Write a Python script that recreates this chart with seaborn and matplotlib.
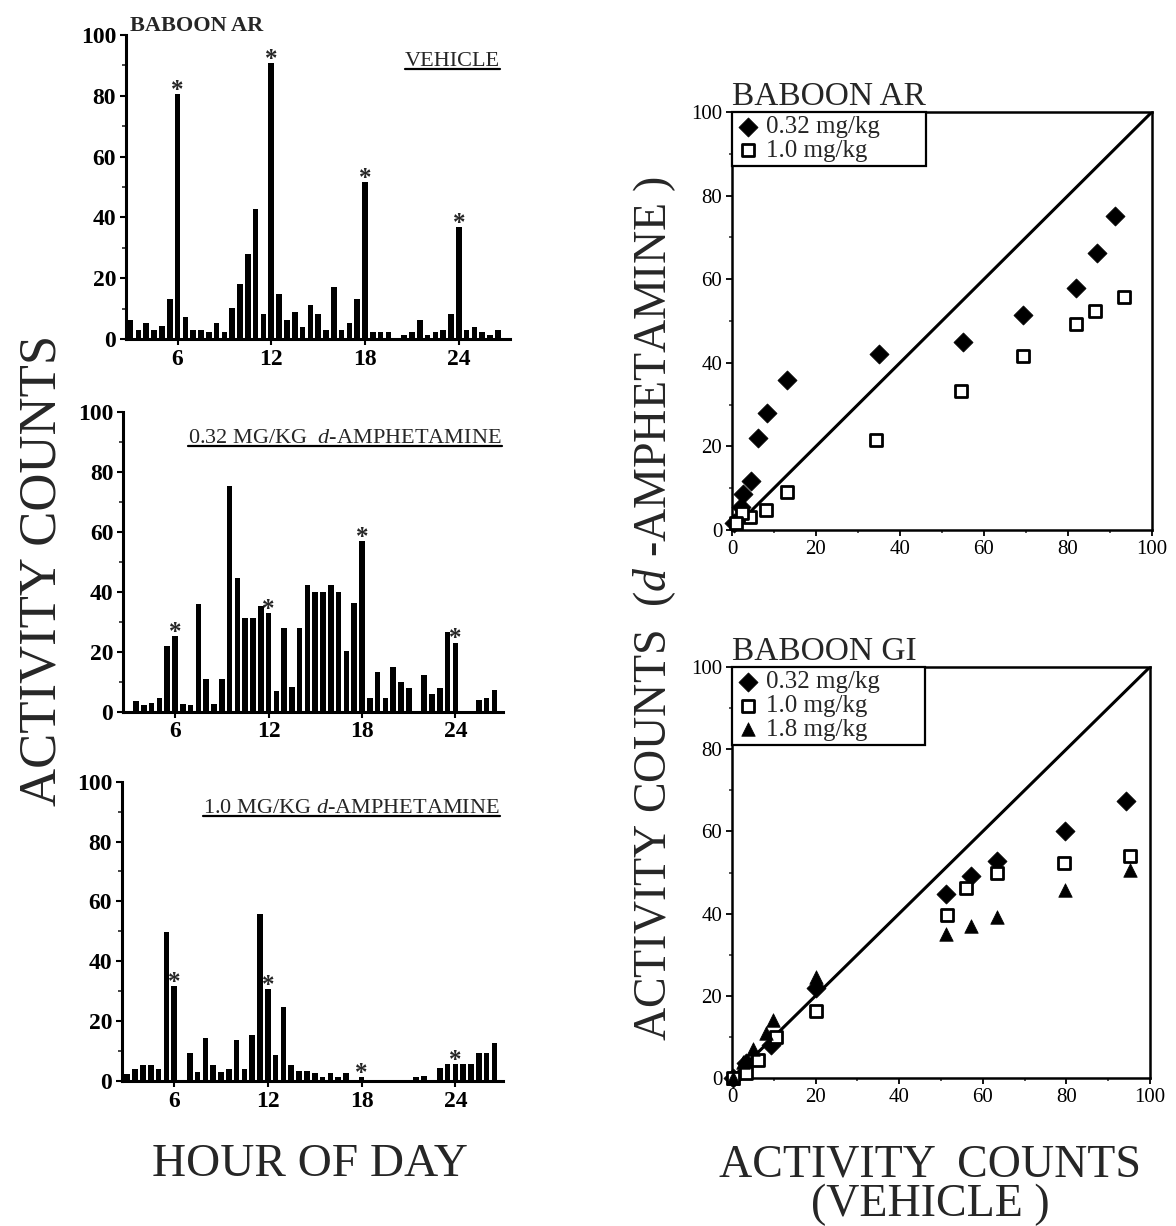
import matplotlib
matplotlib.use('Agg')
import matplotlib.pyplot as plt
from matplotlib.lines import Line2D
from matplotlib.ticker import MultipleLocator
import seaborn as sns

# half-hour bins, hour of day
hours = [3.0, 3.5, 4.0, 4.5, 5.0, 5.5, 6.0, 6.5, 7.0, 7.5, 8.0, 8.5,
         9.0, 9.5, 10.0, 10.5, 11.0, 11.5, 12.0, 12.5, 13.0, 13.5, 14.0, 14.5,
         15.0, 15.5, 16.0, 16.5, 17.0, 17.5, 18.0, 18.5, 19.0, 19.5, 20.0, 20.5,
         21.0, 21.5, 22.0, 22.5, 23.0, 23.5, 24.0, 24.5, 25.0, 25.5, 26.0, 26.5]

vehicle = [6.4, 2.8, 5.1, 2.8, 4.2, 13.1, 80.6, 7.2, 2.8, 2.8, 2.4, 5.1,
           2.4, 10.1, 18.2, 27.8, 42.8, 8.3, 90.7, 14.9, 6.2, 8.9, 4.1, 11.1,
           8.3, 3.1, 17.0, 3.1, 5.3, 13.1, 51.6, 2.4, 2.4, 2.4, 0.0, 1.4,
           2.4, 6.1, 1.3, 2.4, 2.8, 8.3, 36.9, 2.8, 4.0, 2.4, 1.4, 2.8]

amph_032 = [0.0, 3.7, 2.1, 2.8, 4.7, 21.9, 25.2, 2.7, 2.2, 35.9, 10.8, 2.7,
            10.8, 75.2, 44.4, 31.1, 31.1, 35.2, 32.8, 7.0, 27.8, 8.1, 27.8, 42.2,
            40.0, 40.0, 42.1, 40.0, 20.2, 36.1, 56.9, 4.7, 13.2, 4.7, 14.9, 9.8,
            8.0, 0.0, 12.1, 6.0, 8.0, 26.7, 23.0, 0.0, 0.0, 3.9, 4.7, 7.1]

amph_10 = [2.3, 4.1, 5.2, 5.2, 4.1, 49.7, 31.7, 0.0, 9.2, 3.1, 14.5, 5.2,
           3.1, 4.1, 13.7, 4.1, 15.3, 55.8, 30.6, 8.7, 24.6, 5.5, 3.2, 3.2,
           2.6, 1.4, 2.6, 1.4, 2.6, 0.3, 1.3, 0.3, 0.3, 0.3, 0.3, 0.3,
           0.3, 1.4, 1.8, 0.0, 4.2, 5.6, 5.6, 5.6, 5.6, 9.5, 9.5, 12.6]

star_hours = [6.0, 12.0, 18.0, 24.0]

# scatter: vehicle counts vs d-amphetamine counts
ar_032_x = [91.1, 86.9, 81.9, 69.2, 55.1, 35.1, 13.0, 8.4, 6.2, 4.5, 2.6, 2.2, 0.6]
ar_032_y = [75.1, 66.3, 58.0, 51.4, 44.9, 42.1, 35.9, 28.0, 22.1, 11.8, 8.6, 5.6, 1.6]
ar_10_x = [93.4, 86.5, 81.9, 69.2, 54.5, 34.2, 13.0, 8.2, 4.2, 2.5, 1.0]
ar_10_y = [55.8, 52.4, 49.2, 41.6, 33.3, 21.5, 9.2, 4.9, 3.2, 4.0, 1.6]

gi_032_x = [94.3, 79.6, 63.3, 57.3, 51.3, 20.0, 9.3, 3.4, 0.2]
gi_032_y = [67.4, 60.1, 52.9, 49.1, 44.9, 21.9, 8.1, 3.6, 0.0]
gi_10_x = [95.2, 79.4, 63.3, 56.1, 51.5, 20.2, 10.5, 6.2, 3.4, 0.2]
gi_10_y = [54.1, 52.4, 49.8, 46.2, 39.7, 16.4, 10.0, 4.5, 1.2, 0.0]
gi_18_x = [95.2, 79.6, 63.3, 57.1, 51.3, 20.2, 9.8, 8.2, 5.0, 2.6, 0.2]
gi_18_y = [50.6, 45.7, 39.1, 37.1, 35.1, 24.7, 14.2, 10.9, 7.0, 4.0, 0.0]

identity = [0, 100]

sns.set_theme(style='ticks')
plt.rcParams['font.family'] = ['Liberation Serif', 'DejaVu Serif']
plt.rcParams['mathtext.fontset'] = 'custom'
plt.rcParams['mathtext.rm'] = 'Liberation Serif'
plt.rcParams['mathtext.it'] = 'Liberation Serif:italic'

fig = plt.figure(figsize=(11.76, 12.26), dpi=100)

bar_panels = [
    ([0.1071, 0.7235, 0.3265, 0.2480], vehicle, (2.70, 27.27), 'VEHICLE', 0.974),
    ([0.1046, 0.4195, 0.3231, 0.2447], amph_032, (2.66, 27.05),
     r'0.32 MG/KG  $d$-AMPHETAMINE', 0.997),
    ([0.1037, 0.1183, 0.3240, 0.2441], amph_10, (2.66, 27.05),
     r'1.0 MG/KG $d$-AMPHETAMINE', 0.992),
]

titles = []
for rect, vals, xl, ttl, tx in bar_panels:
    ax = fig.add_axes(rect)
    sns.barplot(x=hours, y=vals, native_scale=True, color='black',
                saturation=1, width=0.72, errorbar=None, edgecolor='black',
                linewidth=0, ax=ax)
    ax.set_xlim(*xl)
    ax.set_ylim(0, 100)
    ax.set_xticks([6, 12, 18, 24])
    ax.set_xticklabels(['6', '12', '18', '24'])
    ax.set_yticks([0, 20, 40, 60, 80, 100])
    ax.yaxis.set_minor_locator(MultipleLocator(10))
    ax.set_xlabel('')
    ax.set_ylabel('')
    sns.despine(ax=ax)
    for s in ['left', 'bottom']:
        ax.spines[s].set_linewidth(2.2)
        ax.spines[s].set_color('black')
    ax.tick_params(axis='both', which='major', direction='out', length=4,
                   width=1.5, labelsize=17, pad=3, colors='black')
    ax.tick_params(axis='y', which='minor', direction='out', length=3, width=1.2)
    for lbl in ax.get_xticklabels() + ax.get_yticklabels():
        lbl.set_fontweight('bold')
    for h in star_hours:
        v = vals[hours.index(h)]
        ax.annotate('*', xy=(h, v), xytext=(0, -2), textcoords='offset points',
                    ha='center', va='baseline', fontsize=18, fontweight='bold')
    t = ax.text(tx, 0.897, ttl, transform=ax.transAxes, ha='right',
                va='baseline', fontsize=16)
    titles.append(t)

fig.text(130 / 1176, 1 - 31 / 1226, 'BABOON AR', fontsize=16, fontweight='bold',
         ha='left', va='baseline')

scatter_panels = [
    ([0.6224, 0.5677, 0.3571, 0.3409], 'BABOON AR',
     [(ar_032_x, ar_032_y, 'D', '0.32 mg/kg'),
      (ar_10_x, ar_10_y, 's', '1.0 mg/kg')]),
    ([0.6224, 0.1207, 0.3554, 0.3352], 'BABOON GI',
     [(gi_032_x, gi_032_y, 'D', '0.32 mg/kg'),
      (gi_10_x, gi_10_y, 's', '1.0 mg/kg'),
      (gi_18_x, gi_18_y, '^', '1.8 mg/kg')]),
]

for rect, name, series in scatter_panels:
    ax = fig.add_axes(rect)
    sns.lineplot(x=identity, y=identity, color='black', linewidth=2.2, ax=ax)
    for xs, ys, mk, lab in series:
        if mk == 's':
            sns.scatterplot(x=xs, y=ys, marker='s', s=75, color='white',
                            edgecolor='black', linewidth=2.0, label=lab,
                            clip_on=False, zorder=3, ax=ax)
        else:
            sns.scatterplot(x=xs, y=ys, marker=mk, s=95, color='black',
                            edgecolor='black', linewidth=0.5, label=lab,
                            clip_on=False, zorder=3, ax=ax)
    ax.set_xlim(0, 100)
    ax.set_ylim(0, 100)
    ax.set_xticks([0, 20, 40, 60, 80, 100])
    ax.set_yticks([0, 20, 40, 60, 80, 100])
    ax.xaxis.set_minor_locator(MultipleLocator(10))
    ax.yaxis.set_minor_locator(MultipleLocator(10))
    for s in ax.spines.values():
        s.set_linewidth(1.8)
        s.set_color('black')
    ax.tick_params(axis='both', which='major', direction='out', length=4,
                   width=1.3, labelsize=15, pad=3, colors='black')
    ax.tick_params(axis='both', which='minor', direction='out', length=2.5, width=1.1)
    ax.set_title(name, loc='left', fontsize=24, pad=1, x=0.0)
    leg = ax.legend(loc='upper left', bbox_to_anchor=(0, 1, 0.462, 0),
                    mode='expand', borderaxespad=0, frameon=True, fancybox=False,
                    edgecolor='black', framealpha=1, fontsize=18,
                    handletextpad=0.2, labelspacing=0.05, borderpad=0.15,
                    handlelength=1.0)
    leg.get_frame().set_linewidth(1.6)

fig.text(0.036, 0.535, 'ACTIVITY COUNTS', rotation=90, fontsize=38,
         ha='center', va='center')
fig.text(0.2636, 0.0498, 'HOUR OF DAY', fontsize=34, ha='center', va='center')
fig.text(0.557, 0.504, r'ACTIVITY COUNTS  ($d$ -AMPHETAMINE )', rotation=90,
         fontsize=33, ha='center', va='center')
fig.text(0.791, 0.0498, 'ACTIVITY  COUNTS', fontsize=33, ha='center', va='center')
fig.text(0.791, 0.0171, '(VEHICLE )', fontsize=33, ha='center', va='center')

# underline the panel captions
fig.canvas.draw()
renderer = fig.canvas.get_renderer()
inv = fig.transFigure.inverted()
for t in titles:
    bb = t.get_window_extent(renderer)
    (x0, y0), (x1, _) = inv.transform([(bb.x0, bb.y0 + 2), (bb.x1, bb.y0 + 2)])
    fig.add_artist(Line2D([x0, x1], [y0, y0], color='black', lw=1.6,
                          transform=fig.transFigure))

fig.savefig('out.png', dpi=100)
